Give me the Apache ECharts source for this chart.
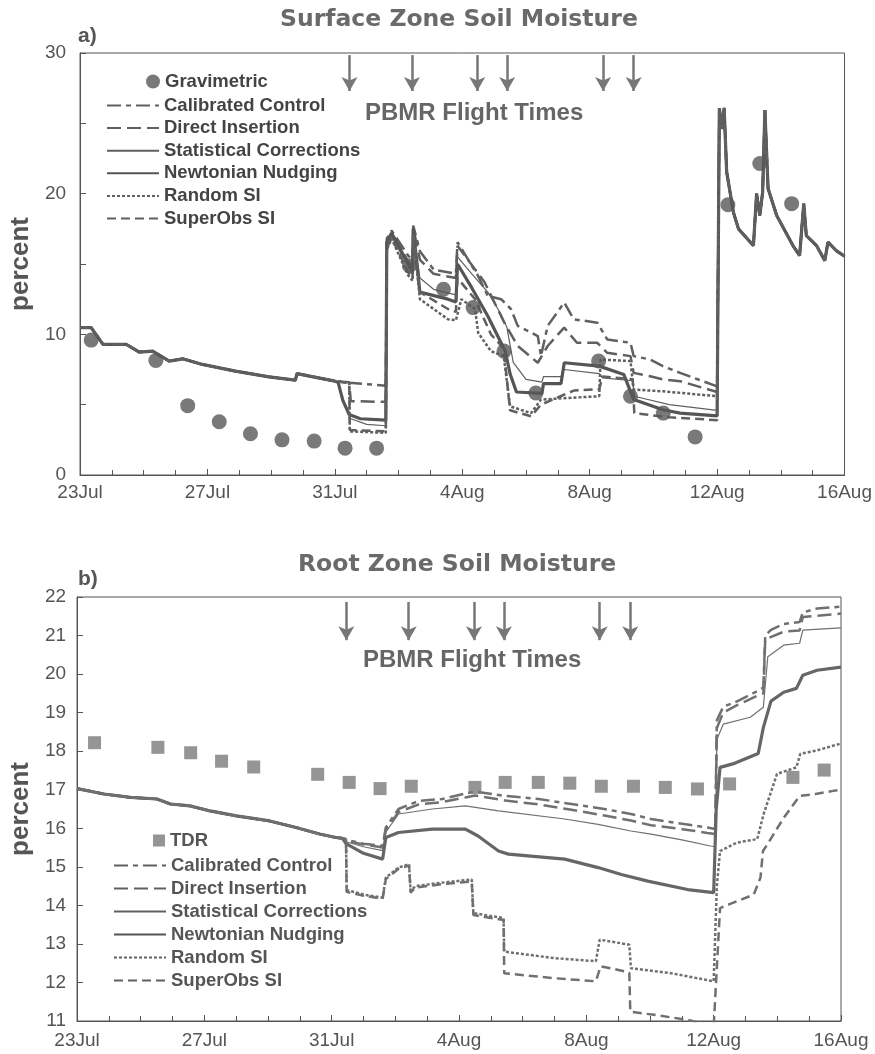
<!DOCTYPE html>
<html>
<head>
<meta charset="utf-8">
<script src="https://cdn.jsdelivr.net/npm/echarts@6/dist/echarts.min.js"></script>
<style>
html,body{margin:0;padding:0;background:#fff;}
#chart{width:875px;height:1054px;}
</style>
</head>
<body>
<div id="chart"></div>
<script>
// ---------- DATA (x = days since 23 Jul 00:00) ----------
const xTickLabels = ['23Jul','27Jul','31Jul','4Aug','8Aug','12Aug','16Aug'];
const flightDays = [8.46, 10.42, 12.47, 13.41, 16.42, 17.38];
const seriesNames = ['Calibrated Control','Direct Insertion','Statistical Corrections','Newtonian Nudging','Random SI','SuperObs SI'];

// Panel a: surface zone
const gravDays = [0.35,2.38,3.38,4.37,5.35,6.34,7.35,8.32,9.31,10.34,11.41,12.34,13.31,14.31,16.28,17.28,18.31,19.31,20.34,21.34,22.34];
const gravVals = [9.59,8.14,4.93,3.79,2.93,2.5,2.41,1.91,1.91,14.88,13.21,11.9,8.81,5.83,8.1,5.6,4.4,2.71,19.21,22.14,19.29];

const surfStart = [[0,10.48],[0.35,10.48],[0.72,9.29],[1.45,9.29],[1.86,8.74],[2.28,8.8],[2.8,8.1],[3.22,8.26],[3.84,7.86],[4.88,7.38],[5.93,6.98],[6.76,6.74],[6.81,7.21],[8.0,6.67],[8.06,6.62]];
const surfEnd = [[20.07,26.07],[20.15,24.6],[20.22,26.1],[20.3,21.55],[20.51,18.69],[20.67,17.5],[21.14,16.31],[21.24,20.0],[21.34,18.45],[21.43,20.12],[21.5,25.95],[21.6,20.36],[21.87,18.45],[22.38,16.31],[22.59,15.6],[22.72,19.29],[22.8,17.02],[23.12,16.31],[23.38,15.24],[23.48,16.55],[23.74,15.95],[24.0,15.55]];
const surfCC = [[8.45,6.55],[9.6,6.35],[9.63,16.8],[9.78,17.38],[10.3,15.6],[10.44,15.3],[10.46,17.74],[10.67,15.9],[11.1,14.6],[11.8,14.3],[11.85,16.55],[12.49,14.17],[12.8,12.74],[13.22,12.5],[13.53,11.79],[13.74,10.6],[14.37,9.88],[14.47,8.45],[14.68,10.6],[15.2,12.26],[15.5,11.07],[16.24,10.83],[16.55,9.64],[17.28,9.4],[17.38,8.45],[17.9,8.21],[18.3,7.74],[18.84,7.26],[20.0,6.3]];
const surfDI = [[8.45,6.6],[8.5,5.25],[9.6,5.2],[9.63,16.6],[9.78,17.2],[10.3,15.2],[10.44,14.8],[10.46,17.6],[10.67,15.3],[11.1,14.3],[11.8,14.0],[11.85,16.3],[12.7,13.7],[13.32,10.83],[13.74,9.17],[14.37,7.98],[14.68,9.17],[15.2,10.48],[15.6,9.4],[16.24,9.4],[16.55,8.69],[17.28,8.45],[17.38,7.26],[17.9,7.02],[18.3,6.79],[18.84,6.67],[20.0,5.9]];
const surfSC = [[8.1,6.6],[8.3,5.0],[8.5,4.0],[9.0,3.6],[9.6,3.5],[9.63,16.3],[9.78,17.0],[10.3,14.8],[10.44,14.2],[10.46,17.3],[10.67,14.0],[11.1,13.2],[11.8,12.8],[11.85,15.5],[12.3,14.3],[12.8,13.0],[13.2,11.5],[13.4,10.5],[13.6,8.0],[14.0,6.8],[14.5,6.6],[14.55,7.0],[15.1,7.0],[15.2,7.5],[16.3,7.2],[16.4,6.9],[17.35,6.7],[17.4,5.6],[18.5,5.0],[20.0,4.6]];
const surfNN = [[8.1,6.6],[8.25,5.3],[8.45,4.3],[8.8,4.0],[9.6,3.9],[9.63,16.5],[9.78,17.2],[10.3,15.0],[10.44,14.5],[10.46,17.5],[10.67,13.0],[11.55,12.5],[11.8,12.3],[11.85,15.0],[12.3,13.3],[12.8,11.3],[13.35,8.8],[13.5,7.2],[13.7,5.9],[14.5,5.8],[14.55,6.5],[15.1,6.5],[15.2,7.98],[16.3,7.74],[17.07,7.15],[17.38,5.36],[18.3,4.64],[18.84,4.4],[20.0,4.2]];
const surfRSI = [[8.45,6.55],[8.47,3.1],[9.6,3.0],[9.63,16.0],[9.78,16.8],[10.3,14.2],[10.44,13.8],[10.46,17.0],[10.67,12.5],[11.55,11.07],[11.8,11.0],[11.97,12.5],[12.4,11.8],[12.5,10.1],[12.9,8.8],[13.3,8.45],[13.5,4.88],[14.16,4.4],[14.47,5.36],[15.5,5.5],[16.3,5.6],[16.34,8.21],[17.28,8.1],[17.38,6.07],[18.3,5.95],[20.0,5.6]];
const surfSOSI = [[8.45,6.55],[8.47,3.2],[9.6,3.1],[9.63,16.1],[9.78,16.9],[10.3,14.4],[10.44,14.0],[10.46,17.1],[10.67,13.0],[11.55,11.8],[11.8,11.6],[11.85,14.0],[12.4,12.5],[12.9,10.0],[13.3,9.0],[13.5,4.6],[14.16,4.17],[14.47,5.0],[15.5,6.0],[16.3,6.1],[16.4,7.0],[17.35,6.8],[17.4,4.4],[18.5,4.1],[20.0,3.9]];

// Panel b: root zone
const tdrDays = [0.55,2.54,3.57,4.54,5.55,7.56,8.55,9.52,10.5,12.5,13.45,14.49,15.48,16.47,17.48,18.48,19.49,20.5,22.49,23.47];
const tdrVals = [18.22,18.1,17.96,17.74,17.59,17.4,17.19,17.03,17.09,17.06,17.19,17.19,17.17,17.09,17.09,17.06,17.02,17.15,17.32,17.51];

const rootStart = [[0,17.03],[0.84,16.89],[1.68,16.8],[2.51,16.76],[2.93,16.63],[3.55,16.58],[4.18,16.45],[5.01,16.32],[6.05,16.19],[6.88,16.02],[7.62,15.85],[8.13,15.76],[8.34,15.74]];
const rootCC = [[8.45,15.7],[9.0,15.6],[9.6,15.54],[9.7,16.02],[10.1,16.5],[10.74,16.71],[11.47,16.76],[12.2,16.9],[12.5,16.95],[13.45,16.84],[14.5,16.76],[15.53,16.63],[16.57,16.5],[17.4,16.37],[18.03,16.24],[19.07,16.11],[19.8,16.02],[20.05,15.98],[20.1,18.8],[20.3,19.15],[20.75,19.3],[21.4,19.57],[21.56,19.65],[21.62,21.0],[21.8,21.15],[22.2,21.3],[22.7,21.35],[22.8,21.6],[23.25,21.7],[24.0,21.75]];
const rootDI = [[8.45,15.68],[9.0,15.58],[9.6,15.5],[9.7,15.95],[10.1,16.42],[10.74,16.62],[11.47,16.68],[12.2,16.8],[12.5,16.85],[13.45,16.72],[14.5,16.62],[15.53,16.48],[16.57,16.33],[17.4,16.2],[18.03,16.08],[19.07,15.97],[19.8,15.88],[20.05,15.85],[20.1,18.6],[20.3,19.0],[20.75,19.2],[21.4,19.45],[21.56,19.5],[21.62,20.9],[22.2,21.1],[22.7,21.13],[22.8,21.48],[24.0,21.57]];
const rootSC = [[8.45,15.65],[9.0,15.52],[9.6,15.42],[9.7,15.9],[10.1,16.37],[11.16,16.5],[12.2,16.58],[13.24,16.45],[15.32,16.24],[16.37,16.1],[17.4,15.93],[18.03,15.85],[19.0,15.7],[19.9,15.54],[20.05,15.52],[20.1,18.3],[20.3,18.7],[21.15,18.88],[21.56,19.14],[21.7,20.45],[22.2,20.75],[22.7,20.8],[22.8,21.14],[24.0,21.2]];
const rootNN = [[8.45,15.6],[9.0,15.35],[9.6,15.2],[9.7,15.76],[10.1,15.89],[11.16,15.98],[12.2,15.98],[12.6,15.8],[13.24,15.41],[13.55,15.33],[15.32,15.2],[16.37,14.98],[17.1,14.8],[17.93,14.63],[19.18,14.41],[20.0,14.33],[20.08,16.5],[20.2,17.58],[20.6,17.67],[21.4,17.94],[21.56,18.61],[21.8,19.3],[22.2,19.53],[22.6,19.63],[22.8,19.97],[23.25,20.1],[24.0,20.18]];
const rootRSI = [[8.45,15.72],[8.47,14.4],[9.0,14.28],[9.6,14.2],[9.7,14.72],[10.1,14.98],[10.43,15.07],[10.48,14.37],[10.63,14.5],[11.47,14.59],[12.4,14.67],[12.45,13.8],[13.4,13.67],[13.42,12.8],[15.0,12.63],[16.3,12.55],[16.42,13.11],[17.35,12.98],[17.4,12.37],[18.66,12.24],[20.0,12.03],[20.1,14.5],[20.2,15.41],[20.74,15.63],[21.37,15.72],[21.57,16.37],[21.99,17.41],[22.6,17.58],[22.72,17.93],[23.24,18.02],[24.0,18.2]];
const rootSOSI = [[8.45,15.72],[8.47,14.35],[9.0,14.25],[9.6,14.17],[9.7,14.68],[10.1,14.95],[10.43,15.03],[10.48,14.33],[10.63,14.46],[11.47,14.55],[12.4,14.62],[12.45,13.75],[13.4,13.62],[13.42,12.24],[15.0,12.11],[16.3,12.03],[16.45,12.42],[17.2,12.29],[17.35,12.25],[17.38,11.24],[18.13,11.16],[19.18,11.03],[19.8,10.9],[20.0,10.85],[20.2,13.93],[20.5,14.03],[21.26,14.28],[21.47,14.72],[21.55,15.41],[21.7,15.6],[22.2,16.27],[22.7,16.84],[23.2,16.89],[23.75,16.97],[24.0,17.0]];

// ---------- CHART ----------
const FONT = '"Liberation Sans", Arial, Helvetica, sans-serif';
const TFONT = '"DejaVu Sans", "Liberation Sans", sans-serif';
const styles = {
  'Calibrated Control':      {width:2.5, type:[14,5,5,5]},
  'Direct Insertion':        {width:2.5, type:[14,6]},
  'Statistical Corrections': {width:1.2, type:'solid'},
  'Newtonian Nudging':       {width:3.2, type:'solid'},
  'Random SI':               {width:2.5, type:[3,2]},
  'SuperObs SI':             {width:2.5, type:[9,5]}
};
const surfMid = [surfCC, surfDI, surfSC, surfNN, surfRSI, surfSOSI];
const rootAll = [rootCC, rootDI, rootSC, rootNN, rootRSI, rootSOSI];

function lineSeries(name, data, gi, color) {
  const s = styles[name];
  return {type:'line', name:name, data:data, xAxisIndex:gi, yAxisIndex:gi,
    symbol:'none', color:color, clip:true,
    lineStyle:{color:color, width:s.width, type:s.type}, z:3};
}
function arrows(top, tip) {
  return {silent:true, symbol:['none','arrow'], symbolSize:[12,14], label:{show:false},
    lineStyle:{color:'#777', width:2.5, type:'solid'},
    data: flightDays.map(d => [{coord:[d, top]}, {coord:[d, tip]}])};
}

const series = [];
series.push({type:'scatter', name:'Gravimetric', xAxisIndex:0, yAxisIndex:0, symbol:'circle', symbolSize:15,
  itemStyle:{color:'#585858'}, z:5,
  data: gravDays.map((d,i) => [d, gravVals[i]]), markLine: arrows(29.85, 27.3)});
seriesNames.forEach((n,i) => series.push(lineSeries(n, surfStart.concat(surfMid[i], surfEnd), 0, i===3 ? '#555' : '#606060')));
series.push({type:'scatter', name:'TDR', xAxisIndex:1, yAxisIndex:1, symbol:'rect', symbolSize:13,
  itemStyle:{color:'#7a7a7a'}, z:5,
  data: tdrDays.map((d,i) => [d, tdrVals[i]]), markLine: arrows(21.87, 20.88)});
seriesNames.forEach((n,i) => series.push(lineSeries(n, rootStart.concat(rootAll[i]), 1, i===3 ? '#666' : '#707070')));

function xAxis(gi, margin) {
  return {type:'value', gridIndex:gi, min:0, max:24, interval:4,
    axisLine:{show:true, lineStyle:{color:'#555', width:1}},
    axisTick:{show:true, inside:true, length:6, lineStyle:{color:'#555'}},
    minorTick:{show:true, splitNumber:4, length:5, lineStyle:{color:'#555'}},
    splitLine:{show:false},
    axisLabel:{margin:margin, color:'#555', fontSize:19, fontFamily:FONT,
      formatter: v => xTickLabels[Math.round(v/4)]}};
}
function yAxis(gi, min, max, interval, minorSplit, margin, nameGap) {
  return {type:'value', gridIndex:gi, min:min, max:max, interval:interval,
    name:'percent', nameLocation:'middle', nameRotate:90, nameGap:nameGap,
    nameTextStyle:{fontSize:26, fontWeight:'bold', color:'#555', fontFamily:FONT},
    axisLine:{show:true, lineStyle:{color:'#555', width:1}},
    axisTick:{show:true, inside:true, length:6, lineStyle:{color:'#555'}},
    minorTick:{show:minorSplit>1, splitNumber:minorSplit, length:6, lineStyle:{color:'#555'}},
    splitLine:{show:false},
    axisLabel:{margin:margin, color:'#555', fontSize:19, fontFamily:FONT}};
}
const legendText = {fontSize:18.5, fontWeight:'bold', color:'#444', fontFamily:FONT, lineHeight:18};
const hideSym = {opacity:0, color:'transparent', borderWidth:0};

const option = {
  backgroundColor:'#ffffff',
  animation:false,
  title:[
    {text:'Surface Zone Soil Moisture', left:280, top:8, padding:0, textStyle:{fontSize:23.5, fontWeight:'bold', color:'#6a6a6a', fontFamily:TFONT}},
    {text:'a)', left:78, top:26, padding:0, textStyle:{fontSize:21, fontWeight:'bold', color:'#555', fontFamily:FONT}},
    {text:'PBMR Flight Times', left:365, top:101, padding:0, textStyle:{fontSize:24, fontWeight:'bold', color:'#666', fontFamily:FONT}},
    {text:'Root Zone Soil Moisture', left:298, top:553, padding:0, textStyle:{fontSize:23.5, fontWeight:'bold', color:'#6a6a6a', fontFamily:TFONT}},
    {text:'b)', left:78, top:569, padding:0, textStyle:{fontSize:21, fontWeight:'bold', color:'#555', fontFamily:FONT}},
    {text:'PBMR Flight Times', left:363, top:648, padding:0, textStyle:{fontSize:24, fontWeight:'bold', color:'#666', fontFamily:FONT}}
  ],
  legend:[
    {data:['Gravimetric'], orient:'vertical', left:146, top:72, padding:0, itemWidth:14, itemHeight:14, itemGap:3.6, selectedMode:false, textStyle:legendText},
    {data:seriesNames, orient:'vertical', left:106, top:96, padding:0, itemWidth:52, itemHeight:14, itemGap:3.6, selectedMode:false, textStyle:legendText, itemStyle:hideSym},
    {data:['TDR'], orient:'vertical', left:153, top:831, padding:0, itemWidth:12, itemHeight:12, itemGap:4, selectedMode:false, textStyle:Object.assign({}, legendText, {color:'#555'})},
    {data:seriesNames, orient:'vertical', left:113, top:856, padding:0, itemWidth:52, itemHeight:14, itemGap:4, selectedMode:false, textStyle:Object.assign({}, legendText, {color:'#555'}), itemStyle:hideSym}
  ],
  grid:[
    {left:77, top:53, width:768, height:422, show:true, borderColor:'#555', borderWidth:1, backgroundColor:'transparent'},
    {left:73, top:597, width:768, height:424, show:true, borderColor:'#555', borderWidth:1, backgroundColor:'transparent'}
  ],
  xAxis:[xAxis(0, 8), xAxis(1, 10)],
  yAxis:[yAxis(0, 0, 30, 10, 2, 14, 42), yAxis(1, 11, 22, 1, 1, 11, 41)],
  series: series
};
const chart = echarts.init(document.getElementById('chart'), null, {renderer:'canvas'});
chart.setOption(option);
</script>
</body>
</html>
